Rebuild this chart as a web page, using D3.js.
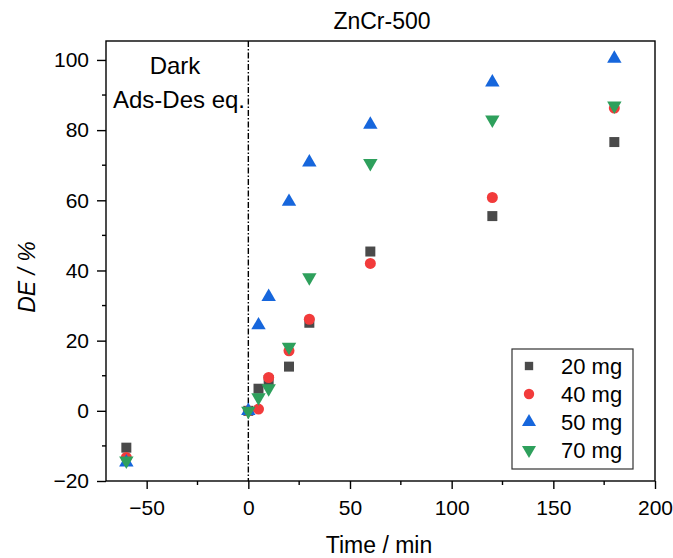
<!DOCTYPE html>
<html><head><meta charset="utf-8">
<script src="https://cdn.jsdelivr.net/npm/d3@7"></script>
<style>body{margin:0;background:#fff}svg{display:block;font-family:"Liberation Sans",Arial,sans-serif}</style>
</head><body><svg id="c" width="673" height="558"></svg>
<script>
const times = [-60, 0, 5, 10, 20, 30, 60, 120, 180];
const de20 = [-10.5, 0, 6.3, 8.8, 12.6, 25.1, 45.4, 55.5, 76.6];
const de40 = [-13.3, 0, 0.5, 9.5, 17.1, 26.1, 42.0, 60.8, 86.3];
const de50 = [-14.7, 0, 24.4, 32.5, 59.6, 70.8, 81.6, 93.6, 100.4];
const de70 = [-14.2, 0, 3.8, 6.4, 18.2, 38.0, 70.6, 83.0, 87.0];
const seriesNames = ["20 mg", "40 mg", "50 mg", "70 mg"];
const seriesColors = ["#4a4a4a", "#f23b3b", "#1666dc", "#2ea05c"];
const xTicks = [-50, 0, 50, 100, 150, 200];
const yTicks = [-20, 0, 20, 40, 60, 80, 100];

const svg = d3.select("#c");
const L = 106, R = 655, T = 41, B = 481;
const x = d3.scaleLinear().domain([-70, 200]).range([L, R]);
const y = d3.scaleLinear().domain([-20, 105.4]).range([B, T]);
const fmt = d => d < 0 ? "\u2212" + Math.abs(d) : d;

// title
svg.append("text").attr("x", 382).attr("y", 29).attr("text-anchor", "middle")
  .attr("font-size", 23).text("ZnCr-500");

// frame
svg.append("rect").attr("x", L).attr("y", T).attr("width", R - L).attr("height", B - T)
  .attr("fill", "none").attr("stroke", "#000").attr("stroke-width", 1.4);

// axes
const xAxis = d3.axisBottom(x).tickValues(xTicks).tickSize(8).tickPadding(11).tickFormat(fmt);
const gx = svg.append("g").attr("transform", `translate(0,${B})`).call(xAxis);
gx.select(".domain").remove();
gx.selectAll("text").attr("font-size", 21).attr("font-family", "Liberation Sans, Arial").attr("fill", "#000");
gx.selectAll("line").attr("stroke-width", 1.4);
const xMinor = d3.range(-50, 201, 25).filter(v => !xTicks.includes(v));
svg.append("g").selectAll("line").data(xMinor).join("line")
  .attr("x1", d => x(d)).attr("x2", d => x(d)).attr("y1", B).attr("y2", B + 4)
  .attr("stroke", "#000").attr("stroke-width", 1.4);

const yAxis = d3.axisLeft(y).tickValues(yTicks).tickSize(9).tickPadding(8).tickFormat(fmt);
const gy = svg.append("g").attr("transform", `translate(${L},0)`).call(yAxis);
gy.select(".domain").remove();
gy.selectAll("text").attr("font-size", 21).attr("font-family", "Liberation Sans, Arial").attr("fill", "#000");
gy.selectAll("line").attr("stroke-width", 1.4);
const yMinor = d3.range(-10, 101, 20);
svg.append("g").selectAll("line").data(yMinor).join("line")
  .attr("x1", L - 4).attr("x2", L).attr("y1", d => y(d)).attr("y2", d => y(d))
  .attr("stroke", "#000").attr("stroke-width", 1.4);

// axis titles
svg.append("text").attr("x", 379).attr("y", 553).attr("text-anchor", "middle")
  .attr("font-size", 23).text("Time / min");
svg.append("text").attr("transform", `translate(35,277) rotate(-90)`)
  .attr("text-anchor", "middle").attr("font-size", 23).attr("font-style", "italic").text("DE / %");

// vertical dash-dot line at t=0
svg.append("line").attr("x1", x(0)).attr("x2", x(0)).attr("y1", T).attr("y2", B)
  .attr("stroke", "#000").attr("stroke-width", 1.4).attr("stroke-dasharray", "6,2,1.5,2");

// annotation
svg.append("text").attr("x", 175).attr("y", 74).attr("text-anchor", "middle").attr("font-size", 24).text("Dark");
svg.append("text").attr("x", 179).attr("y", 108).attr("text-anchor", "middle").attr("font-size", 24).text("Ads-Des eq.");

// markers
const sym = [
  d3.symbol().type(d3.symbolSquare).size(100),
  d3.symbol().type(d3.symbolCircle).size(95),
  d3.symbol().type(d3.symbolTriangle).size(90),
  d3.symbol().type(d3.symbolTriangle).size(90)
];
const rot = [0, 0, 0, 180];
const allSeries = [de20, de40, de50, de70];
allSeries.forEach((vals, i) => {
  svg.append("g").selectAll("path").data(times.map((t, k) => [t, vals[k]])).join("path")
    .attr("d", sym[i]())
    .attr("transform", d => `translate(${x(d[0])},${y(d[1])}) rotate(${rot[i]})`)
    .attr("fill", seriesColors[i]);
});

// legend
const lg = svg.append("g");
lg.append("rect").attr("x", 512).attr("y", 349).attr("width", 121).attr("height", 120)
  .attr("fill", "#fff").attr("stroke", "#333").attr("stroke-width", 1.2);
const rowsY = [366, 394, 422, 450];
seriesNames.forEach((n, i) => {
  lg.append("path").attr("d", d3.symbol().type(i === 0 ? d3.symbolSquare : i === 1 ? d3.symbolCircle : d3.symbolTriangle).size(i === 0 ? 70 : 85)())
    .attr("transform", `translate(529,${rowsY[i]}) rotate(${rot[i]})`).attr("fill", seriesColors[i]);
  lg.append("text").attr("x", 561).attr("y", rowsY[i] + 8).attr("font-size", 22).text(n);
});
</script></body></html>
